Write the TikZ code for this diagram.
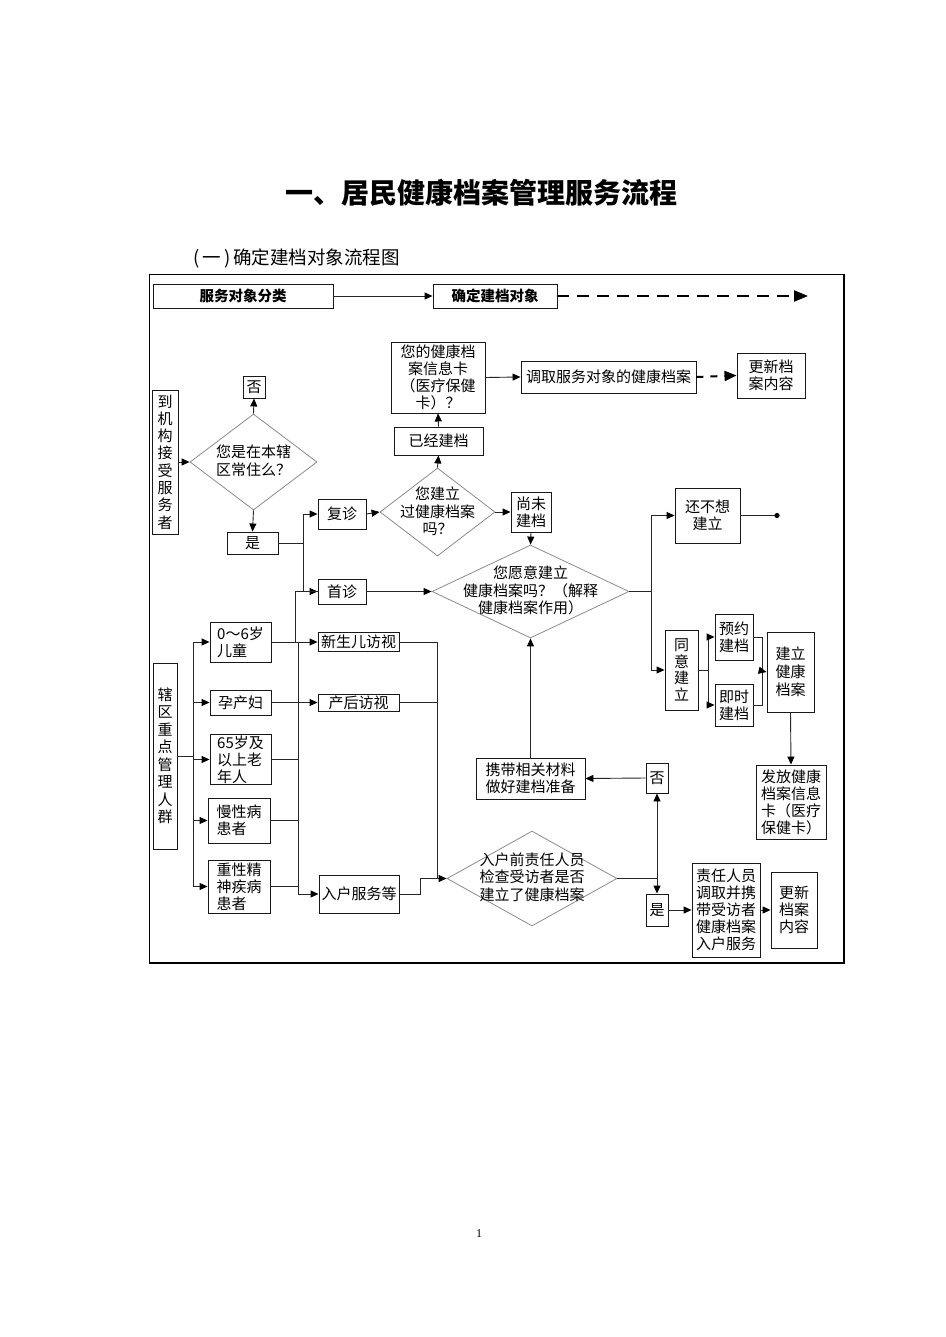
\documentclass[tikz,border=0pt]{standalone}
\usepackage{fontspec}
\setmainfont{Noto Sans CJK SC}
\newfontfamily\serifnum{Liberation Serif}
\usetikzlibrary{arrows.meta,shapes.geometric}
\tikzset{
  box/.style={draw=black!90, line width=0.9pt, inner sep=1pt, font=\fontsize{15}{17}\selectfont, align=center},
  bbox/.style={box, font=\bfseries\fontsize{14.5}{17}\selectfont},
  dia/.style={draw=black!45, line width=0.8pt, shape=diamond, inner sep=0pt},
  dtext/.style={font=\fontsize{15}{17.5}\selectfont, align=center, inner sep=0pt},
  conn/.style={draw=black!85, line width=0.9pt},
  arr/.style={conn, -{Triangle[length=8pt,width=7pt,color=black]}},
  darr/.style={draw=black, line width=2.2pt, dash pattern=on 12pt off 8pt, -{Triangle[length=14pt,width=11pt]}},
}
\begin{document}
\begin{tikzpicture}[x=1pt,y=-1pt]
\useasboundingbox (0,0) rectangle (945,1337);
\fill[white] (0,0) rectangle (945,1337);

% titles
\node[font=\bfseries\fontsize{28}{32}\selectfont] (title) at (481,193) {一、居民健康档案管理服务流程};
\node[font=\fontsize{18.5}{22}\selectfont, anchor=west, inner sep=0pt] (sub) at (193,258) {(\,一\,)\,确定建档对象流程图};
\node[font=\serifnum\fontsize{12}{14}\selectfont] (pg) at (479,1234) {1};

% frame
\draw[line width=1pt] (149,275) rectangle (844,963);
\draw[line width=2pt] (844,275) -- (844,963) -- (149,963);

% top row
\node[bbox, minimum width=180pt, minimum height=24pt] (n1) at (243,296) {服务对象分类};
\node[bbox, minimum width=124pt, minimum height=24pt] (n2) at (495,296) {确定建档对象};
\coordinate (e1) at (808,296);
\draw[arr] (n1.east) -- (n2.west);
\draw[darr] (n2.east) -- (e1);

% upper chain
\node[box, minimum width=94pt, minimum height=71pt] (card) at (438,377.5) {您的健康档\\案信息卡\\（医疗保健\\卡）？};
\node[box, minimum width=175pt, minimum height=32pt] (fetch) at (608.5,377) {调取服务对象的健康档案};
\node[box, minimum width=68pt, minimum height=45pt] (upd1) at (771,375.5) {更新档\\案内容};
\node[box, minimum width=89pt, minimum height=28pt] (built) at (438.5,441) {已经建档};
\node[dia, minimum width=115pt, minimum height=88pt] (d2) at (437.5,512) {};
\node[dtext] (d2t) at (437.5,511.5) {您建立\\过健康档案\\吗？};
\node[box, minimum width=40pt, minimum height=40pt] (notyet) at (531,512) {尚未\\建档};
\node[box, minimum width=48pt, minimum height=30pt] (fz) at (342,514) {复诊};

\draw[arr] (card.east) -- (fetch.west);
\draw[darr, line width=2pt, dash pattern=on 7pt off 7pt, -{Triangle[length=12pt,width=10pt]}] (fetch.east) -- (upd1.west);
\draw[arr] (built.north) -- (card.south);
\draw[arr] (d2.north) -- (built.south);
\draw[arr] (d2.east) -- (notyet.west);
\draw[arr] (fz.east) -- (d2.west);

% left upper
\node[dia, minimum width=127pt, minimum height=96pt] (d1) at (253.5,462) {};
\node[dtext] (d1t) at (253.5,461) {您是在本辖\\区常住么？};
\node[box, minimum width=22pt, minimum height=22pt] (no1) at (254,387) {否};
\node[box, minimum width=26pt, minimum height=144pt, font=\fontsize{15}{17.3}\selectfont] (arrive) at (165,462) {到\\机\\构\\接\\受\\服\\务\\者};
\node[box, minimum width=51pt, minimum height=22pt] (yes1) at (252.5,543) {是};
\node[box, minimum width=48pt, minimum height=25pt] (sz) at (342,591.5) {首诊};

\draw[arr] (d1.north) -- (no1.south);
\draw[arr] (arrive.east) -- (d1.west);
\draw[arr] (d1.south) -- (yes1.north);
\coordinate (j1) at (303,543);
\coordinate (j2) at (295,591.5);
\draw[conn] (yes1.east) -- (j1);
\draw[arr] (j1) |- (fz.west);
\draw[arr] (j1) |- (sz.west);

% decision wish
\node[dia, minimum width=197pt, minimum height=93pt] (d3) at (530.5,591.5) {};
\node[dtext] (d3t) at (530.5,590.5) {您愿意建立\\健康档案吗？（解释\\健康档案作用）};
\draw[arr] (sz.east) -- (d3.west);
\draw[arr] (notyet.south) -- (d3.north);

% right branch
\node[box, minimum width=65pt, minimum height=55pt] (nowant) at (707.5,515.5) {还不想\\建立};
\coordinate (dot) at (777,515.5);
\node[box, minimum width=33pt, minimum height=80pt, font=\fontsize{15}{16.7}\selectfont] (agree) at (681.5,670) {同\\意\\建\\立};
\node[box, minimum width=38pt, minimum height=46pt] (appt) at (734,637) {预约\\建档};
\node[box, minimum width=38pt, minimum height=42pt] (now) at (734,705) {即时\\建档};
\node[box, minimum width=47pt, minimum height=80pt, font=\fontsize{15}{18}\selectfont] (create) at (790.5,672) {建立\\健康\\档案};
\node[box, minimum width=70pt, minimum height=74pt, align=left] (issue) at (791,802) {发放健康\\档案信息\\卡（医疗\\保健卡）};

\coordinate (r1) at (651,591.5);
\draw[conn] (d3.east) -- (r1);
\draw[arr] (r1) |- (nowant.west);
\draw[arr] (r1) |- (agree.west);
\draw[conn] (nowant.east) -- (dot);
\fill (dot) circle (2.6pt);
\coordinate (a1) at (708,670);
\draw[conn] (agree.east) -- (a1);
\draw[arr] (a1) |- (appt.west);
\draw[arr] (a1) |- (now.west);
\coordinate (b1) at (762,671);
\draw[conn] (appt.east) -| (b1);
\draw[conn] (now.east) -| (b1);
\draw[arr] (b1) -- (create.west);
\draw[arr] (create.south) -- (issue.north);

% key groups
\node[box, minimum width=24pt, minimum height=186pt, font=\fontsize{15}{17.5}\selectfont] (key) at (165,756) {辖\\区\\重\\点\\管\\理\\人\\群};
\node[box, minimum width=61pt, minimum height=40pt, align=left] (g1) at (240.5,642) {0～6岁\\儿童};
\node[box, minimum width=61pt, minimum height=25pt] (g2) at (240.5,702.5) {孕产妇};
\node[box, minimum width=61pt, minimum height=49pt, align=left] (g3) at (240.5,759.5) {65岁及\\以上老\\年人};
\node[box, minimum width=62pt, minimum height=45pt, align=left] (g4) at (239,820.5) {慢性病\\患者};
\node[box, minimum width=62pt, minimum height=53pt, align=left] (g5) at (239,886.5) {重性精\\神疾病\\患者};

\coordinate (k1) at (193,756);
\draw[conn] (key.east) -- (k1);
\foreach \g in {g1,g2,g3,g4,g5} { \draw[arr] (k1) |- (\g.west); }

\node[box, minimum width=81pt, minimum height=19pt] (nb) at (358.5,642) {新生儿访视};
\node[box, minimum width=81pt, minimum height=17pt] (pp) at (358.5,702.5) {产后访视};
\node[box, minimum width=80pt, minimum height=38pt] (hv) at (359,894) {入户服务等};

\draw[arr] (g1.east) -- (nb.west);
\draw[conn] (g1.east) -| (j2) -- (sz.west);
\draw[arr] (g2.east) -- (pp.west);
\coordinate (v1) at (298,642);
\draw[arr] (v1) |- (hv.west);
\draw[conn] (g3.east) -- (g3.east -| v1);
\draw[conn] (g4.east) -- (g4.east -| v1);
\draw[conn] (g5.east) -- (g5.east -| v1);

% home visit decision
\node[dia, minimum width=170pt, minimum height=95pt] (d4) at (532,878.5) {};
\node[dtext] (d4t) at (532,877) {入户前责任人员\\检查受访者是否\\建立了健康档案};
\coordinate (m1) at (437,878.5);
\coordinate (m2) at (420,878.5);
\draw[conn] (nb.east) -| (m1);
\draw[conn] (pp.east) -- (pp.east -| m1);
\draw[conn] (hv.east) -| (m2) -- (m1);
\draw[arr] (m1) -- (d4.west);

\node[box, minimum width=22pt, minimum height=30pt] (no2) at (657,778) {否};
\node[box, minimum width=22pt, minimum height=32pt] (yes2) at (657,910) {是};
\node[box, minimum width=109pt, minimum height=41pt] (carry) at (530.5,778.5) {携带相关材料\\做好建档准备};
\node[box, minimum width=68pt, minimum height=94pt, align=left] (resp) at (726,910) {责任人员\\调取并携\\带受访者\\健康档案\\入户服务};
\node[box, minimum width=46pt, minimum height=76pt] (upd2) at (794,910) {更新\\档案\\内容};

\coordinate (c1) at (657,878.5);
\draw[conn] (d4.east) -- (c1);
\draw[arr] (c1) -- (no2.south);
\draw[arr] (c1) -- (yes2.north);
\draw[arr] (no2.west) -- (carry.east);
\draw[arr] (carry.north) -- (d3.south);
\draw[arr] (yes2.east) -- (resp.west);
\draw[arr] (resp.east) -- (upd2.west);
\end{tikzpicture}
\end{document}
